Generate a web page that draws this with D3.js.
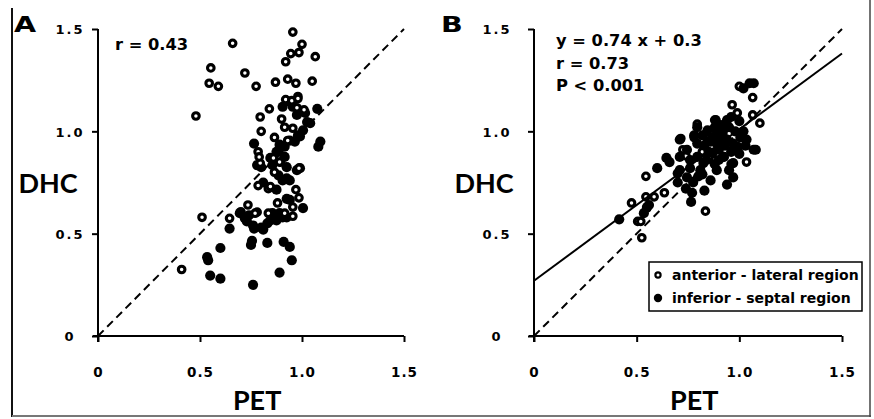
<!DOCTYPE html>
<html>
<head>
<meta charset="utf-8">
<script src="https://cdn.jsdelivr.net/npm/d3@7"></script>
<style>
  body { margin: 0; background: #fff; }
  text { font-family: "DejaVu Sans", sans-serif; font-weight: 700; fill: #000; }
  .big { font-family: Lato, sans-serif; }
</style>
</head>
<body>
<div id="visContainer"></div>
<script>
'use strict';

// values, [PET, DHC]
var tickVals = [0, 0.5, 1.0, 1.5];
var panelA_anterior = [[0.955,1.485],[0.66,1.43],[0.553,1.31],[0.545,1.235],[0.59,1.22],[0.72,1.285],[0.775,1.22],[0.48,1.075],[0.87,1.24],[1.0,1.425],[0.985,1.385],[0.945,1.38],[0.92,1.34],[1.065,1.365],[0.93,1.255],[0.97,1.235],[1.05,1.245],[0.98,1.17],[0.92,1.155],[0.84,1.11],[0.795,1.07],[0.80,1.0],[0.865,0.97],[0.90,1.06],[0.915,1.02],[0.955,1.015],[0.93,0.955],[0.785,0.90],[0.795,0.845],[0.86,0.87],[0.895,0.85],[0.865,0.80],[0.785,0.735],[0.835,0.72],[0.97,0.715],[0.985,0.675],[0.735,0.64],[0.78,0.605],[0.645,0.575],[0.51,0.58],[0.41,0.325],[0.955,0.63],[0.955,0.585],[0.915,0.60],[0.835,0.60],[0.985,0.82],[0.98,1.11],[1.01,1.105],[0.95,1.15],[0.79,0.875],[0.845,0.73],[0.88,0.65],[0.77,0.60],[0.98,1.16],[0.975,1.115],[0.89,0.85]];
var panelA_inferior = [[0.765,0.94],[0.76,0.25],[0.89,0.31],[0.95,0.37],[0.94,0.435],[0.91,0.46],[0.83,0.455],[0.75,0.445],[0.755,0.465],[0.60,0.43],[0.535,0.385],[0.54,0.37],[0.55,0.295],[0.60,0.28],[0.645,0.525],[0.695,0.60],[0.73,0.56],[0.765,0.525],[0.81,0.52],[0.845,0.565],[0.875,0.565],[0.925,0.58],[0.94,0.665],[1.005,0.625],[0.925,0.67],[0.905,0.76],[0.94,0.76],[0.99,0.82],[0.875,0.715],[0.81,0.75],[0.925,0.825],[0.915,0.875],[0.885,0.90],[0.845,0.87],[0.80,0.825],[0.915,0.925],[0.965,0.95],[0.98,0.98],[1.005,1.005],[1.04,1.04],[1.09,0.95],[1.08,0.925],[1.075,1.11],[1.015,1.09],[0.975,1.08],[0.94,1.145],[0.905,1.12],[0.955,1.12],[0.99,0.975],[0.70,0.605],[0.72,0.575],[0.76,0.54],[0.80,0.53],[0.855,0.60],[0.905,0.58],[0.975,0.81],[0.925,0.77],[0.885,0.785],[0.875,0.90],[0.855,0.835],[0.78,0.835],[1.025,1.045],[0.94,0.955],[0.89,0.935],[0.74,0.59],[0.83,0.55],[0.89,0.6]];
var panelB_anterior = [[1.0,1.22],[1.065,1.165],[0.965,1.13],[1.065,1.08],[0.99,1.09],[1.10,1.04],[1.035,0.85],[0.545,0.78],[0.475,0.65],[0.545,0.68],[0.585,0.68],[0.635,0.70],[0.505,0.56],[0.525,0.48],[0.55,0.625],[0.52,0.56],[0.835,0.61],[0.715,0.965],[0.725,0.91],[0.795,1.035],[0.88,1.055],[0.78,0.97],[0.86,0.99],[0.92,0.98],[0.88,0.86],[0.96,0.84],[0.74,0.88],[0.82,0.9],[0.845,0.95],[0.99,0.91]];
var panelB_inferior = [[0.415,0.57],[0.60,0.82],[0.645,0.87],[0.66,0.85],[0.765,0.655],[0.83,0.71],[0.94,0.74],[1.08,0.91],[1.05,1.235],[1.07,1.235],[1.02,1.21],[0.535,0.60],[0.56,0.64],[0.70,0.795],[0.795,1.02],[0.925,0.875],[1.035,0.96],[0.89,0.94],[1.07,0.91],[0.885,1.055],[0.71,0.96],[0.71,0.81],[0.745,0.775],[0.55,0.63],[0.89,0.81],[0.97,0.845],[0.795,0.875],[0.905,0.97],[1.005,0.97],[0.845,1.005],[0.94,1.055],[0.81,0.81],[0.775,0.75],[0.86,0.76],[0.97,0.775],[0.70,0.75],[0.745,0.91],[0.795,0.94],[0.71,0.875],[0.87,0.895],[0.99,0.925],[0.92,0.875],[0.825,0.845],[0.92,1.0],[0.95,1.02],[0.98,1.0],[1.0,1.05],[0.9,1.0],[0.86,0.95],[0.76,0.86],[0.78,0.98],[0.74,0.72],[0.8,0.78],[0.88,0.84],[0.96,0.9],[0.93,0.93],[0.85,0.9],[0.96,1.07],[0.91,1.03],[0.82,0.98],[1.0,0.89],[0.77,0.7],[0.83,0.93],[0.87,0.97],[0.9,0.91],[0.94,0.96],[0.97,0.94],[0.88,1.02],[0.84,0.86],[0.9,0.86],[0.95,0.81],[1.02,1.0],[1.03,0.93],[0.76,0.82],[0.82,0.79]];
var fitB = { slope: 0.74, intercept: 0.27 };   // drawn line sits a bit below the printed 0.3
var notesA = ['r = 0.43'];
var notesB = ['y = 0.74 x + 0.3', 'r = 0.73', 'P < 0.001'];
var legendLabels = ['anterior - lateral region', 'inferior - septal region'];

var width = 874;
var height = 419;
var svg = d3.select('#visContainer')
    .append('svg')
    .attr('width', width)
    .attr('height', height);

// frame round the figure
svg.append('line').attr('x1', 12).attr('y1', 8).attr('x2', 12).attr('y2', 417)
    .attr('stroke', '#111').attr('stroke-width', 2);
svg.append('line').attr('x1', 12).attr('y1', 416).attr('x2', 871).attr('y2', 416)
    .attr('stroke', '#777').attr('stroke-width', 2);
svg.append('line').attr('x1', 870).attr('y1', 0).attr('x2', 870).attr('y2', 417)
    .attr('stroke', '#444').attr('stroke-width', 1.5);

var y = d3.scaleLinear().domain([0, 1.5]).range([336, 29]);

function fmt(d) { return d === 0 ? '0' : d.toFixed(1); }

function drawPanel(x0, x1, letter, letterX, yLabelOff, open, filled, openOnTop) {
    var x = d3.scaleLinear().domain([0, 1.5]).range([x0, x1]);
    var g = svg.append('g');

    var xAxis = d3.axisBottom(x).tickValues(tickVals).tickFormat(fmt).tickSize(6).tickSizeOuter(0);
    var gx = g.append('g').attr('transform', 'translate(0,336)').call(xAxis);
    gx.select('.domain').attr('d', 'M' + (x0 - 5) + ',0H' + x1).attr('stroke-width', 2);
    gx.selectAll('line').attr('stroke-width', 2);
    gx.selectAll('text').attr('y', 41).attr('dy', 0).attr('font-size', 13.5)
        .style('letter-spacing', '1px');

    var yAxis = d3.axisLeft(y).tickValues(tickVals).tickFormat(fmt).tickSize(6).tickSizeOuter(0);
    var gy = g.append('g').attr('transform', 'translate(' + x0 + ',0)').call(yAxis);
    gy.select('.domain').attr('d', 'M0,29V342').attr('stroke-width', 2);
    gy.selectAll('line').attr('stroke-width', 2);
    gy.selectAll('text').attr('x', -yLabelOff).attr('text-anchor', 'middle')
        .attr('dy', '0.36em').attr('font-size', 13).style('letter-spacing', '2px');
    g.selectAll('.tick text').style('font-family', '"DejaVu Sans", sans-serif').style('font-weight', 700);

    // identity line
    g.append('line')
        .attr('x1', x(0)).attr('y1', y(0)).attr('x2', x(1.5)).attr('y2', y(1.5))
        .attr('stroke', '#000').attr('stroke-width', 2).attr('stroke-dasharray', '8,5');

    g.append('text').attr('transform', 'translate(' + letterX + ',32) scale(1.3,1)')
        .attr('font-size', 22).style('font-weight', 900).text(letter);
    g.append('text').attr('class', 'big').attr('x', x0 - 50).attr('y', 193).attr('text-anchor', 'middle')
        .attr('font-size', 27).text('DHC');
    g.append('text').attr('class', 'big').attr('x', x(0.78)).attr('y', 410).attr('text-anchor', 'middle')
        .attr('font-size', 27).text('PET');

    function dots(data, isOpen) {
        g.append('g').selectAll('circle').data(data).enter().append('circle')
            .attr('cx', function(d) { return x(d[0]); })
            .attr('cy', function(d) { return y(d[1]); })
            .attr('r', isOpen ? 3.3 : 5.1)
            .attr('fill', isOpen ? '#fff' : '#000')
            .attr('stroke', isOpen ? '#000' : 'none')
            .attr('stroke-width', 3.1);
    }
    if (openOnTop) { dots(filled, false); dots(open, true); }
    else { dots(open, true); dots(filled, false); }
    return { g: g, x: x };
}

var pA = drawPanel(98, 404, 'A', 14, 28, panelA_anterior, panelA_inferior, true);
pA.g.selectAll('.note').data(notesA).enter().append('text')
    .attr('x', 115).attr('y', function(d, i) { return 50 + i * 23; })
    .attr('font-size', 16.3).text(function(d) { return d; });

var pB = drawPanel(534, 842, 'B', 441, 37, panelB_anterior, panelB_inferior, false);
pB.g.append('line')
    .attr('x1', pB.x(0)).attr('y1', y(fitB.intercept))
    .attr('x2', pB.x(1.5)).attr('y2', y(fitB.intercept + fitB.slope * 1.5))
    .attr('stroke', '#000').attr('stroke-width', 2);
pB.g.selectAll('.note').data(notesB).enter().append('text')
    .attr('x', 556).attr('y', function(d, i) { return 46 + i * 22.5; })
    .attr('font-size', 16.3).text(function(d) { return d; });

// legend
var leg = svg.append('g');
leg.append('rect').attr('x', 649).attr('y', 262).attr('width', 213).attr('height', 49)
    .attr('fill', '#fff').attr('stroke', '#000').attr('stroke-width', 1.5);
leg.selectAll('circle').data(legendLabels).enter().append('circle')
    .attr('cx', 658).attr('cy', function(d, i) { return 275 + i * 23; })
    .attr('r', function(d, i) { return i === 0 ? 2.6 : 4.2; })
    .attr('fill', function(d, i) { return i === 0 ? '#fff' : '#000'; })
    .attr('stroke', '#000').attr('stroke-width', function(d, i) { return i === 0 ? 2.2 : 0; });
leg.selectAll('text').data(legendLabels).enter().append('text')
    .attr('x', 672).attr('y', function(d, i) { return 280 + i * 23; })
    .attr('font-size', 14).text(function(d) { return d; });
</script>
</body>
</html>
